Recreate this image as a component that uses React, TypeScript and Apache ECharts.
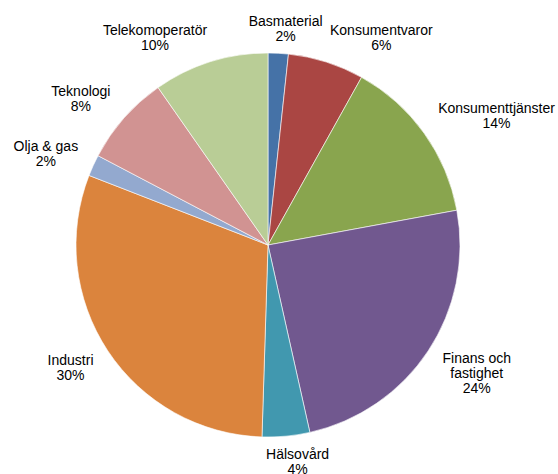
import React, { useEffect, useRef } from "react";
import * as echarts from "echarts";

const categories = [
  "Basmaterial",
  "Konsumentvaror",
  "Konsumenttjänster",
  "Finans och\nfastighet",
  "Hälsovård",
  "Industri",
  "Olja & gas",
  "Teknologi",
  "Telekomoperatör",
];
const values = [1.7, 6.4, 14.0, 24.4, 4.0, 30.4, 1.8, 7.6, 9.7];
const colors = [
  "#4572A7",
  "#AA4643",
  "#89A54E",
  "#71588F",
  "#4198AF",
  "#DB843D",
  "#93A9CF",
  "#D19392",
  "#B9CD96",
];

export default function App() {
  const ref = useRef<HTMLDivElement>(null);
  useEffect(() => {
    if (!ref.current) return;
    const chart = echarts.init(ref.current, null, { renderer: "svg" });
    const cx = 268;
    const cy = 245;
    const R = 192;
    const total = values.reduce((a, b) => a + b, 0);
    const mids: number[] = [];
    let acc = 0;
    values.forEach((v) => {
      mids.push(((acc + v / 2) / total) * Math.PI * 2);
      acc += v;
    });
    const clamp = (v: number) => Math.max(-1, Math.min(1, v));
    chart.setOption({
      animation: false,
      backgroundColor: "#ffffff",
      series: [
        {
          type: "pie",
          center: [cx, cy],
          radius: R,
          startAngle: 90,
          clockwise: true,
          avoidLabelOverlap: false,
          data: categories.map((name, i) => ({
            name,
            value: values[i],
            itemStyle: { color: colors[i] },
          })),
          itemStyle: { borderColor: "#ffffff", borderWidth: 0.6 },
          label: {
            show: true,
            position: "outside",
            color: "#000000",
            fontFamily: "Arial, 'Liberation Sans', sans-serif",
            fontSize: 14,
            lineHeight: 15,
            align: "center",
            formatter: (p: any) => `${p.name}\n${Math.round(p.value)}%`,
          },
          labelLine: { show: false },
          labelLayout: (params: any) => {
            const th = mids[params.dataIndex];
            const s = Math.sin(th);
            const c = Math.cos(th);
            const Rp = R + 10;
            const px = cx + Rp * s;
            const py = cy - Rp * c;
            const w = params.labelRect.width;
            const h = params.labelRect.height;
            const f = clamp(s * 3);
            const g = clamp(c * 1.3);
            return {
              x: px + f * (w / 2 + 6),
              y: py - (g * h) / 2,
              align: "center",
              verticalAlign: "middle",
            };
          },
          emphasis: { disabled: true },
        },
      ],
    });
    return () => chart.dispose();
  }, []);
  return (
    <div
      ref={ref}
      style={{ position: "fixed", left: 0, top: 0, width: 558, height: 474 }}
    />
  );
}
